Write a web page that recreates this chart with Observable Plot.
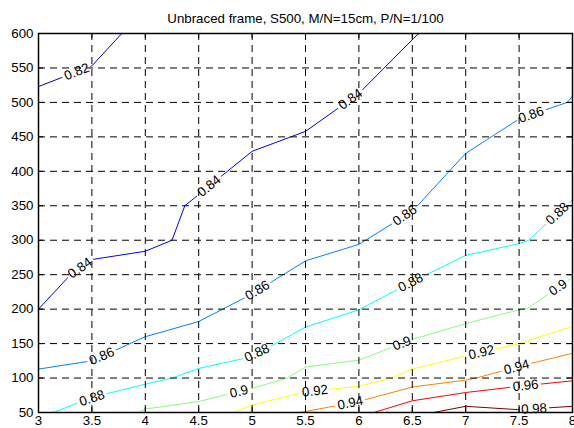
<!DOCTYPE html>
<html><head><meta charset="utf-8">
<script src="https://cdn.jsdelivr.net/npm/d3@7"></script>
<script src="https://cdn.jsdelivr.net/npm/@observablehq/plot@0.6"></script>
<style>body{margin:0;background:#fff}</style>
</head><body><div id="chart"></div>
<script>
const title = "Unbraced frame, S500, M/N=15cm, P/N=1/100";
const xTicks = [3, 3.5, 4, 4.5, 5, 5.5, 6, 6.5, 7, 7.5, 8];
const yTicks = [50, 100, 150, 200, 250, 300, 350, 400, 450, 500, 550, 600];
const levels = [0.82, 0.84, 0.86, 0.88, 0.9, 0.92, 0.94, 0.96, 0.98];
const levelColors = ["#0000c0", "#0000ff", "#0080ff", "#00ffff", "#80ff80", "#ffff00", "#ff8000", "#ff0000", "#800000"];

// contour polylines (x = first value, y = second value), one per level
const c082x = [3, 3.5, 3.78];
const c082y = [523, 553, 600];
const c084x = [3, 3.3, 3.5, 4, 4.25, 4.37, 5, 5.5, 6, 6.5, 6.56];
const c084y = [200, 250, 272, 284, 300, 350, 429, 458, 513, 591, 600];
const c086x = [3, 3.5, 4, 4.5, 5, 5.5, 6, 6.5, 7, 7.5, 7.95, 8];
const c086y = [113, 125, 160, 182, 222, 270, 294, 342, 426, 476, 500, 509];
const c088x = [3.14, 3.5, 4, 4.25, 4.5, 5, 5.5, 6, 6.5, 7, 7.5, 7.59, 8];
const c088y = [50, 72, 91, 100, 114, 131, 174, 199, 240, 278, 295, 300, 359];
const c090x = [3.94, 4, 4.5, 5, 5.33, 5.5, 6, 6.5, 7, 7.5, 7.58, 8];
const c090y = [50, 55, 66, 85, 100, 116, 126, 156, 179, 199, 201, 246];
const c092x = [4.83, 5, 5.5, 6, 6.3, 6.5, 7, 7.5, 8];
const c092y = [50, 61, 80, 88, 100, 113, 132, 150, 175];
const c094x = [5.45, 6, 6.5, 7, 7.1, 7.5, 8];
const c094y = [50, 66, 87, 97, 100, 117, 136];
const c096x = [6.14, 6.5, 7, 7.5, 8];
const c096y = [50, 67, 79, 88, 96];
const c098x = [6.7, 7, 7.5, 8];
const c098y = [50, 59, 54, 59];

// contour labels
const labelLevel = [0.82, 0.84, 0.84, 0.84, 0.86, 0.86, 0.86, 0.86, 0.88, 0.88, 0.88, 0.88, 0.9, 0.9, 0.9, 0.92, 0.92, 0.94, 0.94, 0.96, 0.98];
const labelX = [3.36, 3.39, 4.59, 5.92, 3.59, 5.05, 6.43, 7.61, 3.50, 5.05, 6.49, 7.85, 4.88, 6.41, 7.87, 5.59, 7.15, 5.92, 7.48, 7.56, 7.64];
const labelY = [544, 259, 380, 505, 132, 227, 336, 483, 71, 135, 237, 340, 79, 147, 230, 79, 136, 63, 114, 90, 55];

const W = 574, H = 428, ML = 38, MR = 2, MT = 33, MB = 16;
const xDomain = [3, 8], yDomain = [50, 600];
const sx = x => ML + (x - xDomain[0]) / (xDomain[1] - xDomain[0]) * (W - ML - MR);
const sy = y => MT + (yDomain[1] - y) / (yDomain[1] - yDomain[0]) * (H - MT - MB);
const ix = px => xDomain[0] + (px - ML) / (W - ML - MR) * (xDomain[1] - xDomain[0]);
const iy = py => yDomain[1] - (py - MT) / (H - MT - MB) * (yDomain[1] - yDomain[0]);

const polyX = [c082x, c084x, c086x, c088x, c090x, c092x, c094x, c096x, c098x];
const polyY = [c082y, c084y, c086y, c088y, c090y, c092y, c094y, c096y, c098y];
const colorOf = l => levelColors[levels.indexOf(l)];

const linePts = [];
levels.forEach((l, i) => polyX[i].forEach((x, j) => linePts.push({x, y: polyY[i][j], level: l})));

// snap labels onto their line and orient them along it
const labels = labelLevel.map((l, k) => {
  const i = levels.indexOf(l);
  const P = polyX[i].map((x, j) => [sx(x), sy(polyY[i][j])]);
  const cum = [0];
  for (let j = 1; j < P.length; j++) cum.push(cum[j-1] + Math.hypot(P[j][0]-P[j-1][0], P[j][1]-P[j-1][1]));
  const qx = sx(labelX[k]), qy = sy(labelY[k]);
  let best = {d: Infinity, s: 0};
  for (let j = 1; j < P.length; j++) {
    const [ax, ay] = P[j-1], [bx, by] = P[j];
    const dx = bx-ax, dy = by-ay, len2 = dx*dx+dy*dy;
    let t = len2 ? ((qx-ax)*dx + (qy-ay)*dy) / len2 : 0;
    t = Math.max(0, Math.min(1, t));
    const px = ax + t*dx, py = ay + t*dy, d = Math.hypot(qx-px, qy-py);
    if (d < best.d) best = {d, s: cum[j-1] + t*Math.sqrt(len2)};
  }
  const at = s => {
    s = Math.max(0, Math.min(cum[cum.length-1], s));
    for (let j = 1; j < P.length; j++) if (s <= cum[j]) {
      const t = (s - cum[j-1]) / (cum[j]-cum[j-1] || 1);
      return [P[j-1][0] + t*(P[j][0]-P[j-1][0]), P[j-1][1] + t*(P[j][1]-P[j-1][1])];
    }
    return P[P.length-1];
  };
  const h = 12;
  const a = at(best.s - h), b = at(best.s + h);
  const c = [(a[0]+b[0])/2, (a[1]+b[1])/2];
  return {x: ix(c[0]), y: iy(c[1]), text: String(l), rotate: Math.atan2(b[1]-a[1], b[0]-a[0]) * 180 / Math.PI};
});

const font = "'Liberation Sans', Arial, Helvetica, sans-serif";
const FS = 13.3;
const innerW = W - ML - MR, innerH = H - MT - MB;
const tickLen = 5;

const chart = Plot.plot({
  width: W, height: H,
  marginLeft: ML, marginRight: MR, marginTop: MT, marginBottom: MB,
  style: {fontFamily: font, fontSize: FS + "px", background: "white", overflow: "visible"},
  x: {domain: xDomain, label: null},
  y: {domain: yDomain, label: null},
  marks: [
    Plot.line(linePts, {x: "x", y: "y", z: "level", stroke: d => colorOf(d.level), strokeWidth: 1}),
    Plot.text(labels, {x: "x", y: "y", text: "text", rotate: "rotate", fontSize: FS, fill: "white", stroke: "white", strokeWidth: 6, textAnchor: "middle", lineAnchor: "middle"}),
    Plot.ruleX(xTicks.slice(1, -1), {x: d => d, stroke: "black", strokeWidth: 1, strokeDasharray: "7,5"}),
    Plot.ruleY(yTicks.slice(1, -1), {y: d => d, stroke: "black", strokeWidth: 1, strokeDasharray: "7,5"}),
    Plot.tickX(xTicks, {x: d => d, insetBottom: innerH - tickLen, stroke: "black"}),
    Plot.tickX(xTicks, {x: d => d, insetTop: innerH - tickLen, stroke: "black"}),
    Plot.tickY(yTicks, {y: d => d, insetRight: innerW - tickLen, stroke: "black"}),
    Plot.tickY(yTicks, {y: d => d, insetLeft: innerW - tickLen, stroke: "black"}),
    Plot.frame({stroke: "black", strokeWidth: 1.5}),
    Plot.text(labels, {x: "x", y: "y", text: "text", rotate: "rotate", fontSize: FS, fill: "black", textAnchor: "middle", lineAnchor: "middle"}),
    Plot.axisX(xTicks, {label: null, tickSize: 0, tickPadding: 3, fontSize: FS, tickFormat: d => String(d), fill: "black"}),
    Plot.axisY(yTicks, {label: null, tickSize: 0, tickPadding: 5, fontSize: FS, tickFormat: d => String(d), fill: "black"}),
    Plot.text([title], {frameAnchor: "top", dy: -11, lineAnchor: "bottom", text: d => d, fontSize: FS, fill: "black"})
  ]
});
document.getElementById("chart").appendChild(chart);
</script>
</body></html>
